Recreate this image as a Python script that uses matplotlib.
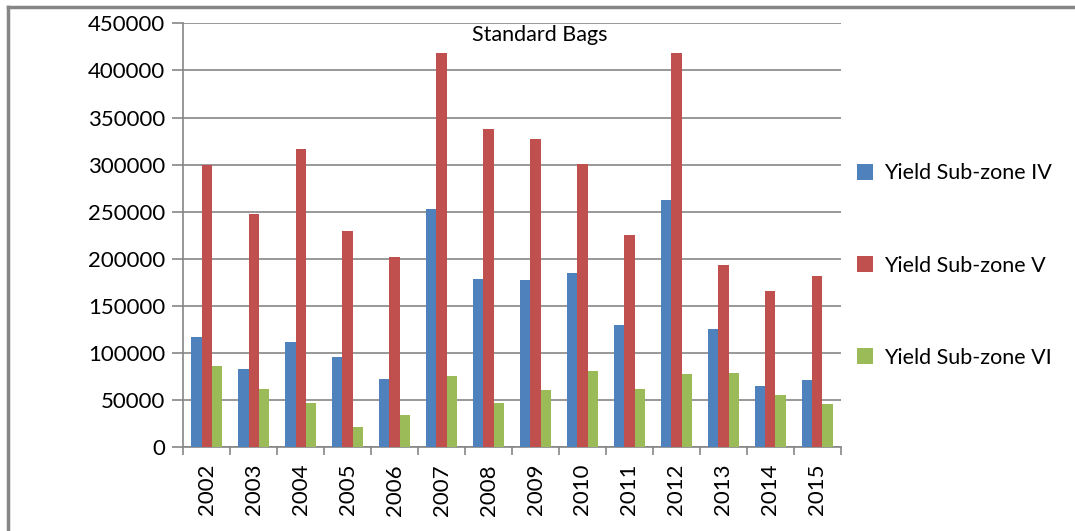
import numpy as np
import matplotlib.pyplot as plt
from matplotlib.lines import Line2D

plt.rcParams['font.family'] = ['Lato', 'DejaVu Sans']

years = ['2002', '2003', '2004', '2005', '2006', '2007', '2008',
         '2009', '2010', '2011', '2012', '2013', '2014', '2015']
zone_iv = [117000, 83000, 112000, 95500, 72500, 253000, 179000,
           178000, 185000, 130000, 263000, 126000, 65000, 71000]
zone_v = [300000, 248000, 317000, 230000, 202000, 418000, 337500,
          327000, 301000, 225000, 419000, 193000, 166000, 182000]
zone_vi = [86000, 62000, 47000, 21500, 34500, 76000, 47000,
           61000, 81000, 62000, 77500, 79000, 56000, 45500]
series_names = ['Yield Sub-zone IV', 'Yield Sub-zone V', 'Yield Sub-zone VI']
colors = ['#4F81BD', '#C0504D', '#9BBB59']

fig = plt.figure(figsize=(10.75, 5.31), dpi=100)
ax = fig.add_axes([0.1705, 0.1576, 0.6116, 0.7985])

x = np.arange(len(years))
w = 0.22
handles = []
for i, (vals, col, name) in enumerate(zip([zone_iv, zone_v, zone_vi], colors, series_names)):
    b = ax.bar(x + (i - 1) * w, vals, width=w, color=col, label=name, zorder=3)
    handles.append(b)

ax.set_xlim(-0.5, len(years) - 0.5)
ax.set_ylim(0, 450000)
ax.set_yticks(np.arange(0, 450001, 50000))
ax.set_yticklabels([str(v) for v in range(0, 450001, 50000)], fontsize=16)
ax.yaxis.grid(True, color='#868686', linewidth=1.2, zorder=0)

# year labels centred, tick marks between categories
ax.set_xticks(x)
ax.set_xticklabels(years, rotation=90, fontsize=16)
ax.tick_params(axis='x', length=0, pad=12)
ax.set_xticks(np.arange(-0.5, len(years), 1), minor=True)
ax.tick_params(axis='x', which='minor', length=6, color='#868686', width=1.2)
ax.tick_params(axis='y', length=8, color='#868686', width=1.2, pad=5)

for side in ['top', 'right']:
    ax.spines[side].set_visible(False)
for side in ['left', 'bottom']:
    ax.spines[side].set_color('#868686')
    ax.spines[side].set_linewidth(1.2)

fig.text(0.502, 0.934, 'Standard Bags', ha='center', va='center', fontsize=15.5)

fig.legend(handles=handles, loc='center left', bbox_to_anchor=(0.779, 0.5),
           frameon=False, fontsize=15.5, handlelength=0.75, handleheight=0.75,
           handletextpad=0.5, labelspacing=3.35)

# outer chart border (top and left edges visible)
fig.add_artist(Line2D([0.0075, 1.0], [0.987, 0.987], color='#868686', linewidth=2.5))
fig.add_artist(Line2D([0.0075, 0.0075], [0.0, 0.987], color='#868686', linewidth=2.5))

fig.savefig('out.png', dpi=100)
